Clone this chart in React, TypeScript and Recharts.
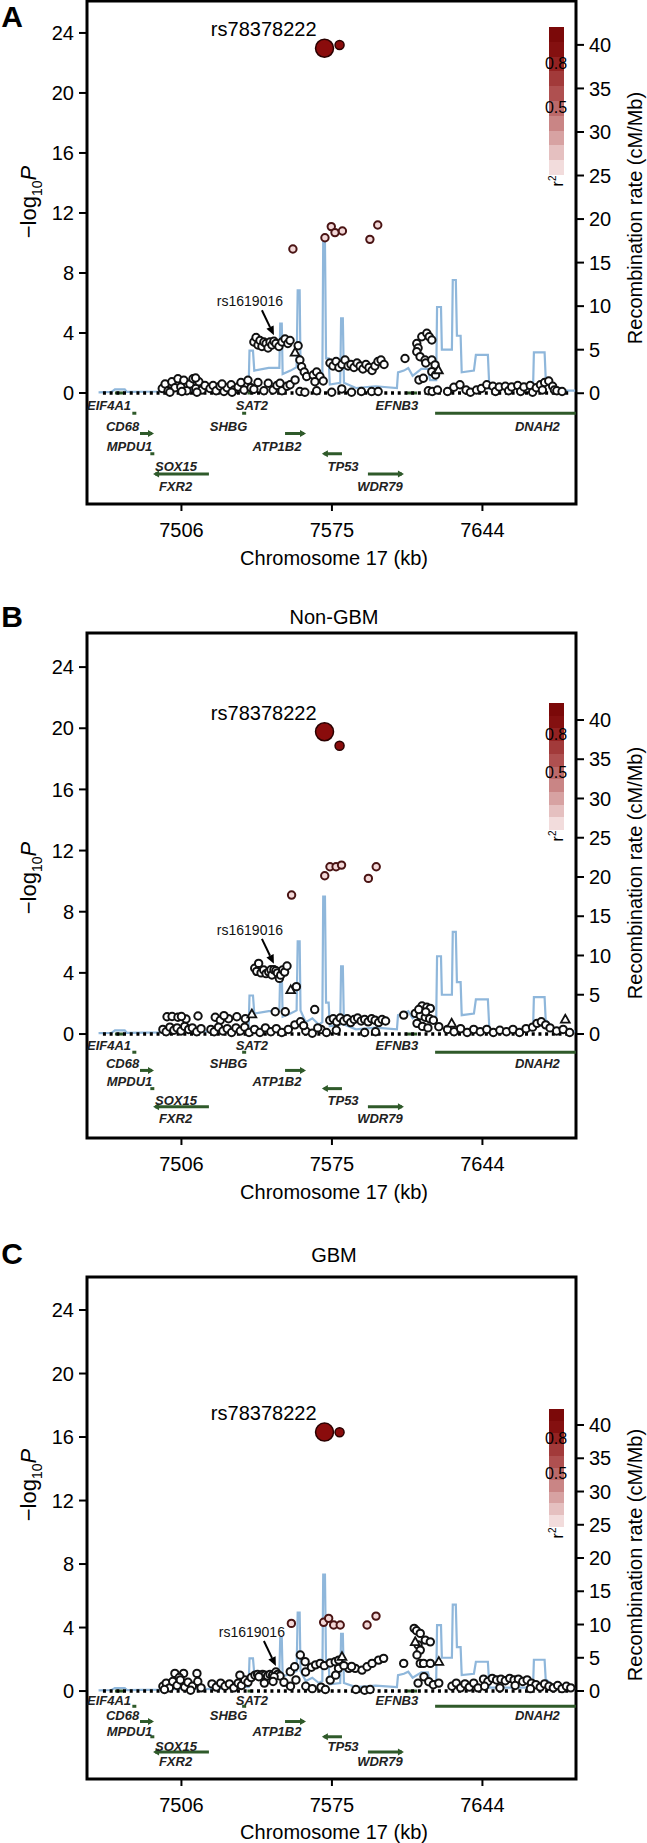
import React from 'react';
import {
  ComposedChart,
  XAxis,
  YAxis,
  Scatter,
  Line,
  ReferenceLine,
  ReferenceArea,
  ReferenceDot,
} from 'recharts';

type Pair = [number, number];

const FONT = '"Liberation Sans", Arial, Helvetica, sans-serif';
const W = 647;
const LEFT_W = 87;
const RIGHT_W = 71;
const GENE = '#2f5a2a';
const BLUE = '#8fb7db';

// axes
const xDomain: [number, number] = [7462.7, 7686.9];
const xTicks = [7506, 7575, 7644];
const pTicks = [0, 4, 8, 12, 16, 20, 24];
const recTicks = [0, 5, 10, 15, 20, 25, 30, 35, 40];

// r2 legend, top (1.0) to bottom (0)
const r2Colors = ['#7b0909', '#841010', '#942222', '#a23a3a', '#af5050', '#bc6a6a', '#c98585', '#d7a2a2', '#e5c0c0', '#f2dcdc'];
const r2Labels = [0.8, 0.5];

const leadName = 'rs78378222';
const markerName = 'rs1619016';

// recombination rate, cM/Mb vs kb
const recomb: Pair[] = [
  [7468, 0.1], [7474, 0.15], [7475.5, 0.45], [7480, 0.45], [7481, 0.15], [7496, 0.2],
  [7510, 0.35], [7520, 0.3], [7530, 0.5], [7536.8, 0.6], [7537.2, 4.9], [7538.8, 4.9],
  [7539.4, 2.6], [7546, 2.9], [7550.9, 2.9], [7551.3, 8.0], [7552.0, 8.0], [7552.4, 2.2],
  [7556, 2.6], [7558.8, 3.0], [7559.3, 11.8], [7560.2, 11.8], [7560.6, 3.0], [7563, 1.5],
  [7566, 2.0], [7569, 1.2], [7570.6, 1.5], [7571.0, 17.5], [7571.8, 17.5], [7572.3, 4.0],
  [7573.5, 4.0], [7574, 1.0], [7578.8, 1.2], [7579.2, 8.6], [7580.0, 8.6], [7580.5, 1.2],
  [7586, 0.6], [7595, 0.8], [7604.8, 0.6], [7605.3, 2.4], [7608, 2.6], [7610, 2.9],
  [7612, 2.0], [7616, 2.8], [7619, 2.8], [7620, 1.5], [7622.8, 1.5], [7623.2, 9.9],
  [7625.0, 9.9], [7625.4, 5.0], [7630.0, 5.0], [7630.4, 13.0], [7631.8, 13.0], [7632.3, 6.6],
  [7634, 6.6], [7634.5, 2.4], [7640.1, 2.6], [7641, 4.4], [7646.5, 4.4], [7647.2, 0.5],
  [7667.2, 0.5], [7667.6, 4.7], [7672.5, 4.7], [7673.0, 1.8], [7675, 1.2], [7677.2, 0.3],
  [7686.5, 0.3],
];

// gene track
const genes = [
  { name: 'EIF4A1', start: 7475.5, end: 7479.7, row: 0, strand: 0, label: 7472.8 },
  { name: 'SAT2', start: 7536.5, end: 7537.9, row: 0, strand: 0, label: 7538.3 },
  { name: 'EFNB3', start: 7609.0, end: 7614.0, row: 0, strand: 0, label: 7604.8 },
  { name: 'CD68', start: 7483.6, end: 7485.2, row: 1, strand: 0, label: 7479.0 },
  { name: 'SHBG', start: 7534.0, end: 7535.5, row: 1, strand: 0, label: 7527.6 },
  { name: 'DNAH2', start: 7622.3, end: 7686.8, row: 1, strand: 0, label: 7669.2 },
  { name: 'MPDU1', start: 7487.0, end: 7492.5, row: 2, strand: 1, label: 7482.2 },
  { name: 'ATP1B2', start: 7553.5, end: 7562.2, row: 2, strand: 1, label: 7549.8 },
  { name: 'SOX15', start: 7492.0, end: 7493.3, row: 3, strand: 0, label: 7503.5 },
  { name: 'TP53', start: 7571.3, end: 7579.6, row: 3, strand: -1, label: 7580.1 },
  { name: 'FXR2', start: 7493.9, end: 7518.6, row: 4, strand: -1, label: 7503.3 },
  { name: 'WDR79', start: 7591.5, end: 7607.1, row: 4, strand: 1, label: 7597.0 },
];

// ---- panel A (all) ----
const aCircles: Pair[] = [
  [7497.2, 0.3], [7498.5, 0.6], [7499.9, 0.15], [7501.6, 0.75], [7503.0, 0.35], [7504.4, 0.95],
  [7505.7, 0.4], [7507.1, 0.85], [7508.5, 0.15], [7509.9, 0.6], [7511.3, 0.95], [7512.6, 0.3],
  [7514.0, 0.75], [7515.4, 0.2], [7516.8, 0.5], [7500.7, 0.05], [7506.2, 0.1], [7513.1, 0.05],
  [7512.5, 1.0],
  [7519.1, 0.3], [7520.5, 0.5], [7521.9, 0.15], [7523.7, 0.45], [7525.5, 0.1], [7526.9, 0.35],
  [7528.8, 0.55], [7530.1, 0.2], [7532.0, 0.4], [7533.3, 0.7], [7534.7, 0.2], [7536.5, 0.85],
  [7537.9, 0.35], [7529.2, 0.05], [7524.6, 0.6],
  [7539.2, 0.25], [7541.1, 0.7], [7543.8, 0.15], [7545.8, 0.65], [7548.0, 0.2], [7549.8, 0.5],
  [7551.2, 0.65], [7552.1, 0.15], [7554.4, 0.45], [7555.8, 0.55], [7558.1, 0.87], [7560.3, 0.1],
  [7539.2, 3.4], [7540.2, 3.7], [7541.1, 3.2], [7542.0, 3.5], [7542.9, 3.1], [7543.8, 3.4],
  [7544.8, 3.3], [7545.7, 3.0], [7546.6, 3.4], [7547.5, 3.2], [7548.4, 3.45], [7549.3, 3.3],
  [7550.7, 3.1], [7552.1, 3.4], [7553.5, 3.6], [7554.8, 3.3], [7555.8, 3.5],
  [7559.5, 3.15], [7560.3, 2.2], [7561.1, 1.75], [7562.3, 1.4], [7563.4, 1.1], [7566.4, 1.2],
  [7568.0, 1.4], [7569.5, 1.1], [7571.0, 0.8], [7567.2, 0.75],
  [7562.6, 0.05], [7568.0, 0.15], [7574.9, 0.05], [7579.5, 0.27], [7593.2, 0.1], [7596.2, 0.1],
  [7584.0, 0.05], [7588.5, 0.1],
  [7574.1, 2.0], [7575.5, 1.8], [7576.9, 2.1], [7578.2, 1.7], [7579.6, 1.9], [7581.0, 2.2],
  [7582.4, 1.8], [7583.7, 1.9], [7585.1, 1.7], [7586.5, 2.0], [7587.9, 1.8], [7589.2, 1.6],
  [7590.6, 1.9], [7592.0, 1.7], [7593.4, 1.5], [7594.7, 1.8], [7596.1, 2.1], [7597.5, 2.2],
  [7598.9, 1.9],
  [7608.5, 2.3],
  [7613.9, 3.3], [7616.2, 3.75], [7618.5, 3.98], [7619.6, 3.75], [7620.8, 3.53], [7614.5, 3.0],
  [7613.9, 2.75], [7615.4, 2.42], [7617.7, 2.2], [7618.0, 2.0], [7620.8, 2.2], [7622.3, 1.87],
  [7620.8, 1.42], [7622.5, 1.2], [7614.9, 0.87], [7616.9, 0.98], [7619.2, 0.15], [7621.0, 0.1],
  [7623.4, 0.2],
  [7628.0, 0.1], [7630.9, 0.38], [7633.7, 0.55], [7636.5, 0.2], [7638.5, 0.05], [7641.3, 0.2],
  [7643.5, 0.3], [7646.0, 0.55], [7648.8, 0.45], [7650.0, 0.1], [7651.7, 0.4], [7654.5, 0.45],
  [7656.0, 0.15], [7657.4, 0.4], [7660.2, 0.5], [7661.5, 0.1], [7663.0, 0.4], [7665.9, 0.5],
  [7667.0, 0.05], [7668.7, 0.35], [7670.6, 0.55], [7671.5, 0.2], [7672.5, 0.7], [7674.4, 0.8],
  [7676.2, 0.45], [7677.0, 0.2], [7678.1, 0.15], [7680.5, 0.1],
];
const aTriangles: Pair[] = [[7558.1, 2.7], [7623.8, 1.53]];
const aPink: Pair[] = [[7557.1, 9.6], [7571.8, 10.35], [7574.7, 11.09], [7576.4, 10.69], [7579.8, 10.8], [7592.4, 10.24], [7596.0, 11.2]];
const aTop: Pair[] = [[7571.6, 22.98], [7578.5, 23.2]];
const aTarget: Pair = [7548.4, 3.45];

// ---- panel B (Non-GBM) ----
const bCircles: Pair[] = [
  [7499.4, 1.13], [7501.7, 1.15], [7504.4, 1.1], [7508.1, 0.98], [7513.6, 1.18], [7506.0, 1.15],
  [7497.5, 0.3], [7499.0, 0.15], [7500.7, 0.45], [7502.5, 0.25], [7504.0, 0.4], [7505.8, 0.2],
  [7507.5, 0.5], [7509.3, 0.3], [7511.0, 0.4], [7513.0, 0.15], [7515.0, 0.35],
  [7521.5, 1.1], [7523.8, 0.9], [7527.6, 1.0], [7531.4, 1.13], [7535.3, 1.0], [7525.5, 1.2],
  [7519.5, 0.3], [7521.0, 0.15], [7523.0, 0.45], [7525.0, 0.2], [7527.0, 0.35], [7529.0, 0.1],
  [7531.0, 0.4], [7533.0, 0.2], [7535.0, 0.45], [7537.0, 0.1],
  [7539.5, 0.3], [7542.0, 0.1], [7544.5, 0.4], [7547.0, 0.15], [7549.5, 0.35], [7552.0, 0.1],
  [7555.0, 0.3], [7558.0, 0.6],
  [7549.0, 1.46], [7553.6, 1.46], [7567.1, 1.6],
  [7539.6, 4.3], [7540.5, 4.1], [7541.4, 4.62], [7542.5, 4.0], [7543.7, 4.19], [7544.8, 3.95],
  [7546.0, 4.07], [7547.0, 4.2], [7547.5, 3.86], [7548.4, 4.2], [7549.3, 4.14], [7550.0, 4.0],
  [7550.9, 3.64], [7551.5, 3.85], [7552.4, 4.19], [7553.3, 4.05], [7554.4, 4.45],
  [7558.7, 3.1], [7560.6, 0.8],
  [7563.0, 0.2], [7566.0, 0.05], [7570.0, 0.3], [7572.5, 0.1], [7577.0, 0.25], [7590.0, 0.1],
  [7595.0, 0.15], [7562.0, 0.55], [7568.5, 0.4],
  [7574.0, 0.9], [7575.6, 1.0], [7577.2, 0.8], [7578.8, 1.05], [7580.4, 0.85], [7582.0, 1.0],
  [7583.6, 0.75], [7585.2, 0.95], [7586.8, 1.05], [7588.4, 0.85], [7590.0, 0.95], [7591.6, 0.8],
  [7593.2, 1.0], [7594.8, 0.9], [7596.4, 0.75], [7598.0, 0.95], [7599.6, 0.85],
  [7607.9, 1.24],
  [7616.3, 1.83], [7618.5, 1.75], [7620.1, 1.68], [7613.2, 1.35], [7615.5, 1.2], [7617.8, 1.1],
  [7619.8, 1.0], [7614.0, 0.7], [7616.5, 0.5], [7619.0, 0.4], [7624.0, 0.48], [7621.5, 0.9],
  [7614.8, 1.6], [7618.0, 1.45],
  [7628.0, 0.3], [7631.0, 0.15], [7634.0, 0.35], [7637.0, 0.1], [7640.0, 0.3], [7643.0, 0.15],
  [7646.0, 0.3], [7649.0, 0.1], [7652.0, 0.25], [7655.0, 0.15], [7658.0, 0.3], [7661.0, 0.1],
  [7664.0, 0.35], [7667.0, 0.45], [7669.0, 0.7], [7671.0, 0.8], [7673.0, 0.6], [7675.0, 0.4],
  [7678.0, 0.2], [7681.0, 0.3], [7684.0, 0.1],
];
const bTriangles: Pair[] = [[7538.3, 1.3], [7556.1, 2.88], [7629.9, 0.7], [7682.0, 0.96]];
const bPink: Pair[] = [[7556.5, 9.09], [7571.7, 10.35], [7574.1, 10.94], [7576.9, 10.94], [7579.4, 11.05], [7591.7, 10.18], [7595.3, 10.94]];
const bTop: Pair[] = [[7571.6, 19.77], [7578.5, 18.86]];
const bTarget: Pair = [7548.4, 4.2];

// ---- panel C (GBM) ----
const cCircles: Pair[] = [
  [7503.0, 1.11], [7507.0, 1.11], [7513.1, 1.11], [7505.0, 0.85],
  [7497.5, 0.3], [7499.0, 0.5], [7500.5, 0.2], [7502.0, 0.6], [7504.0, 0.35], [7505.5, 0.7],
  [7507.5, 0.25], [7509.0, 0.55], [7511.0, 0.3], [7513.5, 0.6], [7515.0, 0.2], [7498.2, 0.1],
  [7510.2, 0.05],
  [7520.0, 0.45], [7522.0, 0.25], [7524.0, 0.5], [7526.0, 0.3], [7528.0, 0.45], [7530.0, 0.2],
  [7532.0, 0.5], [7533.5, 0.35], [7535.0, 0.7], [7536.5, 0.55], [7532.8, 1.0], [7538.0, 0.85],
  [7539.7, 1.0], [7540.9, 1.05], [7542.0, 0.95], [7543.2, 1.05], [7544.3, 1.0], [7545.5, 0.95],
  [7546.6, 1.05], [7547.8, 1.0], [7549.3, 1.2], [7550.1, 1.05], [7551.2, 0.95], [7548.5, 0.9],
  [7541.5, 0.9],
  [7544.0, 0.5], [7548.0, 0.6], [7553.0, 0.55], [7556.0, 0.3], [7558.5, 0.7],
  [7555.9, 1.22], [7557.9, 1.53], [7560.5, 2.27], [7562.7, 1.85], [7562.9, 1.2], [7565.6, 1.5],
  [7567.5, 1.65], [7569.6, 1.74], [7571.5, 1.6], [7574.2, 1.77], [7576.5, 1.85], [7578.1, 1.95],
  [7578.0, 1.43], [7582.7, 1.43], [7585.7, 1.43], [7588.8, 1.32], [7591.1, 1.53], [7593.4, 1.74],
  [7596.4, 1.95], [7598.7, 2.06], [7574.2, 0.69], [7576.7, 1.0], [7580.5, 1.6], [7584.0, 1.55],
  [7607.9, 1.74],
  [7563.0, 0.3], [7566.0, 0.15], [7570.0, 0.25], [7572.0, 0.1], [7586.0, 0.1], [7590.0, 0.05],
  [7592.5, 0.1],
  [7612.7, 3.95], [7613.8, 3.8], [7615.5, 3.63], [7617.8, 3.21], [7620.1, 3.1], [7614.5, 2.9],
  [7615.5, 2.58], [7614.0, 2.27], [7615.5, 1.74], [7617.0, 1.74], [7620.1, 1.74], [7617.2, 0.9],
  [7619.4, 0.59], [7621.5, 0.4], [7614.5, 0.5], [7624.0, 0.5],
  [7630.0, 0.3], [7632.0, 0.5], [7634.0, 0.2], [7636.0, 0.45], [7638.0, 0.25], [7640.0, 0.5],
  [7642.0, 0.2], [7644.5, 0.75], [7646.5, 0.6], [7648.5, 0.8], [7650.5, 0.7], [7652.5, 0.75],
  [7654.5, 0.65], [7656.5, 0.8], [7658.5, 0.7], [7660.5, 0.75], [7662.5, 0.6], [7664.5, 0.7],
  [7666.5, 0.5], [7668.5, 0.4], [7670.5, 0.25], [7672.5, 0.45], [7674.5, 0.3], [7676.5, 0.2],
  [7678.5, 0.35], [7680.5, 0.15], [7682.5, 0.3], [7684.5, 0.2], [7645.0, 0.3], [7652.0, 0.2],
  [7659.0, 0.35], [7666.0, 0.15],
];
const cTriangles: Pair[] = [[7613.2, 3.1], [7579.6, 2.16], [7624.0, 1.85]];
const cPink: Pair[] = [[7556.4, 4.26], [7571.2, 4.33], [7573.5, 4.58], [7575.8, 4.16], [7578.8, 4.16], [7591.1, 4.16], [7595.2, 4.72]];
const cTop: Pair[] = [[7571.6, 16.31], [7578.5, 16.3]];
const cTarget: Pair = [7549.3, 1.2];

interface Layout {
  top: number;
  height: number;
  marginTop: number;
  axisHeight: number;
  pDomain: [number, number];
  recDomain: [number, number];
  rowStep: number;
  labelDy: number;
  legend: [number, number];
  letter: string;
  letterY: number;
  title?: string;
  titleY?: number;
  xTitleY: number;
  pLabelY: number;
  recLabelY: number;
}

const layoutA: Layout = {
  top: 0, height: 600, marginTop: 1, axisHeight: 96,
  pDomain: [-7.4, 26.13], recDomain: [-12.72, 45.04], rowStep: 1.35, labelDy: 17.5,
  legend: [27, 175], letter: 'A', letterY: 17, xTitleY: 558, pLabelY: 202, recLabelY: 218,
};
const layoutB: Layout = {
  top: 600, height: 630, marginTop: 33, axisHeight: 92,
  pDomain: [-6.8, 26.23], recDomain: [-13.25, 51.08], rowStep: 1.19, labelDy: 16,
  legend: [703, 830], letter: 'B', letterY: 616.5, title: 'Non-GBM', titleY: 617,
  xTitleY: 1192, pLabelY: 878, recLabelY: 873,
};
const layoutC: Layout = {
  top: 1230, height: 613, marginTop: 47, axisHeight: 64,
  pDomain: [-5.54, 26.08], recDomain: [-13.23, 62.26], rowStep: 0.96, labelDy: 14,
  legend: [1409, 1527], letter: 'C', letterY: 1254, title: 'GBM', titleY: 1255,
  xTitleY: 1832, pLabelY: 1485, recLabelY: 1555,
};

const toXY = (arr: Pair[]) => arr.map(([x, y]) => ({ x, y }));
const recData = recomb.map(([x, r]) => ({ x, r }));
const tickStyle = { fontSize: 20, fill: '#000', fontFamily: FONT };

const openCircle = (p: any) =>
  p.cx == null ? <g /> : <circle cx={p.cx} cy={p.cy} r={3.7} fill="#fff" stroke="#111" strokeWidth={2} />;

const openTriangle = (p: any) =>
  p.cx == null ? <g /> : (
    <polygon
      points={`${p.cx},${p.cy - 4.6} ${p.cx - 4.4},${p.cy + 3.2} ${p.cx + 4.4},${p.cy + 3.2}`}
      fill="#fff" stroke="#111" strokeWidth={1.8}
    />
  );

const pinkCircle = (p: any) =>
  p.cx == null ? <g /> : <circle cx={p.cx} cy={p.cy} r={3.7} fill="#f3d8d8" stroke="#4a1414" strokeWidth={2} />;

const topShape = (p: any) => {
  if (p.cx == null) return <g />;
  const lead = p.index === 0;
  return (
    <g>
      <circle cx={p.cx} cy={p.cy} r={lead ? 9 : 4.5} fill="#8a0c0c" stroke="#2a0000" strokeWidth={1.5} />
      {lead && (
        <text x={p.cx - 8} y={p.cy - 12} textAnchor="end" fontSize={20} fontFamily={FONT} fill="#000">
          {leadName}
        </text>
      )}
    </g>
  );
};

const markerShape = (p: any) => {
  const { cx, cy } = p;
  if (cx == null) return <g />;
  const tx = cx;
  const ty = cy - 6;
  const sx = cx - 12;
  const sy = cy - 31;
  const len = Math.hypot(tx - sx, ty - sy);
  const ux = (tx - sx) / len;
  const uy = (ty - sy) / len;
  const bx = tx - ux * 9;
  const by = ty - uy * 9;
  const px = -uy * 4;
  const py = ux * 4;
  return (
    <g>
      <line x1={sx} y1={sy} x2={bx} y2={by} stroke="#000" strokeWidth={2} />
      <polygon points={`${tx},${ty} ${bx + px},${by + py} ${bx - px},${by - py}`} fill="#000" />
      <text x={cx - 24} y={cy - 35} textAnchor="middle" fontSize={14} fontFamily={FONT} fill="#111">
        {markerName}
      </text>
    </g>
  );
};

const geneShape = (strand: number) => (p: any) => {
  const { x1, x2, y1 } = p;
  if (x1 == null) return <g />;
  let a = Math.min(x1, x2);
  let b = Math.max(x1, x2);
  if (b - a < 4) {
    const m = (a + b) / 2;
    a = m - 2;
    b = m + 2;
  }
  return (
    <g>
      <line x1={a} x2={b} y1={y1} y2={y1} stroke={GENE} strokeWidth={3} />
      {strand > 0 && <polygon points={`${b + 2},${y1} ${b - 4},${y1 - 3.5} ${b - 4},${y1 + 3.5}`} fill={GENE} />}
      {strand < 0 && <polygon points={`${a - 2},${y1} ${a + 4},${y1 - 3.5} ${a + 4},${y1 + 3.5}`} fill={GENE} />}
    </g>
  );
};

const geneLabel = (name: string, dy: number) => (p: any) =>
  p.cx == null ? <g /> : (
    <text x={p.cx} y={p.cy + dy} textAnchor="middle" fontSize={13} fontStyle="italic" fontWeight="bold" fontFamily={FONT} fill="#222">
      {name}
    </text>
  );

const Txt: React.FC<{ x: number; y: number; size: number; rotate?: boolean; bold?: boolean; children: React.ReactNode }> = ({
  x, y, size, rotate, bold, children,
}) => (
  <div
    style={{
      position: 'absolute', left: x, top: y, fontSize: size, lineHeight: 1, whiteSpace: 'nowrap',
      fontWeight: bold ? 'bold' : 'normal', fontFamily: FONT, color: '#000',
      transform: `translate(-50%, -50%)${rotate ? ' rotate(-90deg)' : ''}`,
    }}
  >
    {children}
  </div>
);

const R2Legend: React.FC<{ top: number; bottom: number }> = ({ top, bottom }) => {
  const h = bottom - top;
  const step = h / r2Colors.length;
  return (
    <>
      {r2Colors.map((c, i) => (
        <div key={i} style={{ position: 'absolute', left: 549, top: top + i * step, width: 15, height: step + 0.5, background: c }} />
      ))}
      {r2Labels.map((v) => (
        <Txt key={v} x={556} y={top + (1 - v) * h + 0.05 * h} size={16}>{v.toFixed(1)}</Txt>
      ))}
      <Txt x={557} y={bottom + 6} size={16} rotate>
        r<sup style={{ fontSize: 10 }}>2</sup>
      </Txt>
    </>
  );
};

const Panel: React.FC<{ cfg: Layout; circles: Pair[]; triangles: Pair[]; pink: Pair[]; top2: Pair[]; target: Pair }> = ({
  cfg, circles, triangles, pink, top2, target,
}) => {
  const t = cfg.top;
  return (
    <div style={{ position: 'absolute', left: 0, top: t, width: W, height: cfg.height }}>
      <ComposedChart width={W} height={cfg.height} margin={{ top: cfg.marginTop, right: 0, bottom: 0, left: 0 }}>
        <XAxis
          dataKey="x" type="number" domain={xDomain} allowDataOverflow ticks={xTicks} interval={0}
          height={cfg.axisHeight} axisLine={false} tickLine={{ stroke: '#000', strokeWidth: 2 }}
          tickSize={7} tickMargin={12} tick={tickStyle}
        />
        <YAxis
          yAxisId="p" dataKey="y" type="number" orientation="left" width={LEFT_W} domain={cfg.pDomain}
          allowDataOverflow ticks={pTicks} interval={0} axisLine={false}
          tickLine={{ stroke: '#000', strokeWidth: 2 }} tickSize={8} tickMargin={5} tick={tickStyle}
        />
        <YAxis
          yAxisId="rec" type="number" orientation="right" width={RIGHT_W} domain={cfg.recDomain}
          allowDataOverflow ticks={recTicks} interval={0} axisLine={false}
          tickLine={{ stroke: '#000', strokeWidth: 2 }} tickSize={8} tickMargin={5} tick={tickStyle}
        />
        <ReferenceArea
          yAxisId="p" x1={xDomain[0]} x2={xDomain[1]} y1={cfg.pDomain[0]} y2={cfg.pDomain[1]}
          fill="none" stroke="#000" strokeWidth={3} ifOverflow="visible"
        />
        <Line
          yAxisId="rec" data={recData} dataKey="r" type="linear" stroke={BLUE} strokeWidth={2.2}
          dot={false} activeDot={false} isAnimationActive={false}
        />
        {genes.map((g) => (
          <ReferenceLine
            key={g.name} yAxisId="p" ifOverflow="visible"
            segment={[{ x: g.start, y: -g.row * cfg.rowStep }, { x: g.end, y: -g.row * cfg.rowStep }]}
            shape={geneShape(g.strand)}
          />
        ))}
        {genes.map((g) => (
          <ReferenceDot
            key={`l-${g.name}`} yAxisId="p" x={g.label} y={-g.row * cfg.rowStep} r={0}
            ifOverflow="visible" shape={geneLabel(g.name, cfg.labelDy)}
          />
        ))}
        <ReferenceLine
          yAxisId="p" ifOverflow="visible" segment={[{ x: 7470, y: 0 }, { x: 7684, y: 0 }]}
          stroke="#000" strokeWidth={3.5} strokeDasharray="3 3.7"
        />
        <Scatter yAxisId="p" data={toXY(circles)} shape={openCircle} isAnimationActive={false} />
        <Scatter yAxisId="p" data={toXY(triangles)} shape={openTriangle} isAnimationActive={false} />
        <Scatter yAxisId="p" data={toXY(pink)} shape={pinkCircle} isAnimationActive={false} />
        <ReferenceDot yAxisId="p" x={target[0]} y={target[1]} r={0} ifOverflow="visible" shape={markerShape} />
        <Scatter yAxisId="p" data={toXY(top2)} shape={topShape} isAnimationActive={false} />
      </ComposedChart>
      <div style={{ position: 'absolute', left: 0, top: -t, width: W, height: 0 }}>
        <Txt x={12} y={cfg.letterY} size={30} bold>{cfg.letter}</Txt>
        {cfg.title && <Txt x={334} y={cfg.titleY as number} size={20}>{cfg.title}</Txt>}
        <Txt x={334} y={cfg.xTitleY} size={20}>Chromosome 17 (kb)</Txt>
        <Txt x={31} y={cfg.pLabelY} size={22} rotate>
          −log<sub style={{ fontSize: 14 }}>10</sub><i>P</i>
        </Txt>
        <Txt x={635} y={cfg.recLabelY} size={20} rotate>Recombination rate (cM/Mb)</Txt>
        <R2Legend top={cfg.legend[0]} bottom={cfg.legend[1]} />
      </div>
    </div>
  );
};

export default function App() {
  return (
    <div style={{ position: 'absolute', left: 0, top: 0, width: W, height: 1843, background: '#fff', overflow: 'hidden' }}>
      <Panel cfg={layoutA} circles={aCircles} triangles={aTriangles} pink={aPink} top2={aTop} target={aTarget} />
      <Panel cfg={layoutB} circles={bCircles} triangles={bTriangles} pink={bPink} top2={bTop} target={bTarget} />
      <Panel cfg={layoutC} circles={cCircles} triangles={cTriangles} pink={cPink} top2={cTop} target={cTarget} />
    </div>
  );
}
